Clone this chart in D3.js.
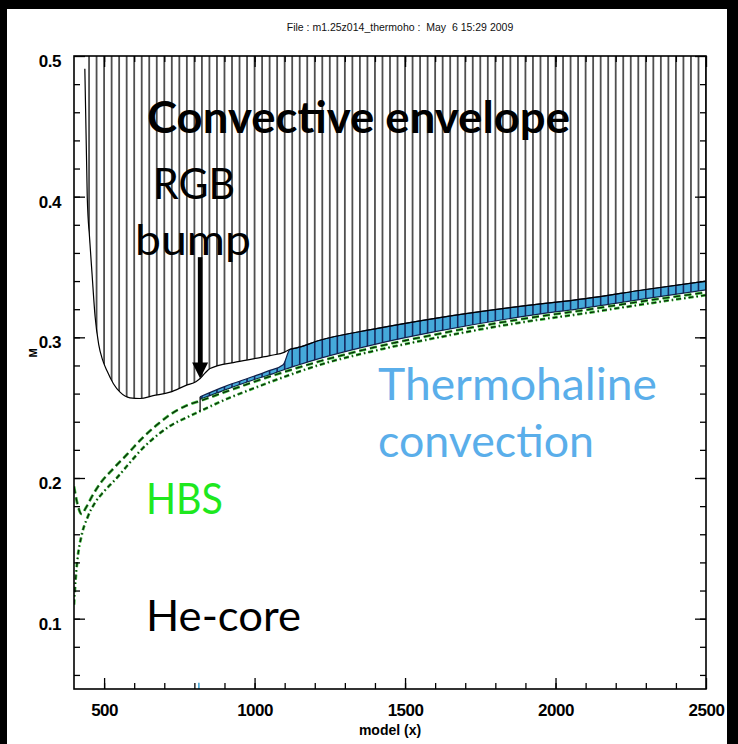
<!DOCTYPE html>
<html>
<head>
<meta charset="utf-8">
<script src="https://cdn.jsdelivr.net/npm/d3@7"></script>
<style>
  html, body { margin: 0; padding: 0; background: #fff; }
  svg { display: block; }
</style>
</head>
<body>
<svg id="chart" width="738" height="744"></svg>
<script>
// ---- axis ticks ----
const xMajorTicks = [500, 1000, 1500, 2000, 2500];
const xTickLabels = ["500", "1000", "1500", "2000", "2500"];
const yMajorTicks = [0.1, 0.2, 0.3, 0.4, 0.5];
const yTickLabels = ["0.1", "0.2", "0.3", "0.4", "0.5"];

// ---- base of the convective envelope (model, M) ----
const envModel = [436, 444, 452, 460, 470, 482, 495, 510, 531, 553, 586, 620, 663, 719, 774, 805, 819, 835, 852, 940, 1051, 1100, 1118, 1140, 1217, 1400, 1600, 1882, 2100, 2300, 2500];
const envM     = [0.491, 0.400, 0.370, 0.345, 0.315, 0.295, 0.284, 0.276, 0.267, 0.261, 0.257, 0.2565, 0.2585, 0.261, 0.266, 0.2685, 0.2707, 0.2745, 0.2778, 0.2825, 0.2870, 0.2895, 0.2915, 0.2925, 0.2979, 0.3060, 0.3135, 0.3220, 0.3275, 0.3340, 0.3400];

// ---- thermohaline mixing zone ----
const thModel = [819, 900, 1000, 1051, 1095, 1118, 1140, 1217, 1400, 1600, 1882, 2100, 2300, 2500];
const thTop   = [0.2578, 0.2650, 0.2725, 0.2765, 0.2805, 0.2915, 0.2925, 0.2979, 0.3060, 0.3135, 0.3220, 0.3275, 0.3340, 0.3400];
const thBot   = [0.2560, 0.2625, 0.2700, 0.2735, 0.2768, 0.2785, 0.2800, 0.2850, 0.2950, 0.3040, 0.3145, 0.3210, 0.3275, 0.3338];

// ---- hydrogen-burning shell boundaries ----
const hbsAModel = [400, 412, 425, 440, 460, 490, 530, 575, 630, 680, 719, 774, 819, 900, 1000, 1100, 1217, 1400, 1600, 1882, 2100, 2300, 2500];
const hbsAM     = [0.194, 0.181, 0.1745, 0.179, 0.187, 0.197, 0.2065, 0.2165, 0.2290, 0.2385, 0.2450, 0.2515, 0.2548, 0.2610, 0.2685, 0.2755, 0.2830, 0.2930, 0.3020, 0.3128, 0.3195, 0.3260, 0.3320];
const hbsBModel = [400, 405, 412, 425, 445, 470, 500, 540, 580, 630, 680, 719, 774, 819, 900, 1000, 1100, 1217, 1400, 1600, 1882, 2100, 2300, 2500];
const hbsBM     = [0.110, 0.127, 0.143, 0.159, 0.172, 0.1825, 0.1905, 0.1995, 0.2095, 0.2215, 0.2310, 0.2370, 0.2430, 0.2475, 0.2555, 0.2640, 0.2720, 0.2805, 0.2905, 0.2995, 0.3105, 0.3172, 0.3238, 0.3300];

// onset of thermohaline mixing (RGB bump)
const bumpModel = 819;
const arrowStartM = 0.357;

const svg = d3.select("#chart");
const W = 738, H = 744;
const plotL = 74, plotR = 706, plotT = 56, plotB = 689;

const x = d3.scaleLinear().domain([400, 2500]).range([plotL, plotR]);
const y = d3.scaleLinear().domain([0.05, 0.5]).range([plotB, plotT]);

// page background with dark border strips
svg.append("rect").attr("width", W).attr("height", H).attr("fill", "#fff");
svg.append("rect").attr("x", 0).attr("y", 0).attr("width", W).attr("height", 9).attr("fill", "#000");
svg.append("rect").attr("x", 0).attr("y", 0).attr("width", 7).attr("height", H).attr("fill", "#000");
svg.append("rect").attr("x", 727).attr("y", 0).attr("width", 11).attr("height", H).attr("fill", "#000");

svg.append("text")
  .attr("x", 400).attr("y", 31)
  .attr("text-anchor", "middle")
  .attr("font-family", "'Liberation Sans', Arial, sans-serif")
  .attr("font-size", 10.5)
  .attr("fill", "#111")
  .style("white-space", "pre")
  .text("File : m1.25z014_thermoho :  May  6 15:29 2009");

const zip = (a, b) => a.map((v, i) => [v, b[i]]);
const envPts = zip(envModel, envM);
const hbsA = zip(hbsAModel, hbsAM);
const hbsB = zip(hbsBModel, hbsBM);
const thPts = thModel.map((m, i) => ({ m, t: thTop[i], b: thBot[i] }));

const defs = svg.append("defs");
defs.append("clipPath").attr("id", "plotClip")
  .append("rect").attr("x", plotL).attr("y", plotT)
  .attr("width", plotR - plotL).attr("height", plotB - plotT);

// convective envelope region: from its base up to the top of the plot
const envArea = d3.area()
  .x(d => x(d[0])).y0(d => y(d[1])).y1(y(0.5))
  .curve(d3.curveMonotoneX);
defs.append("clipPath").attr("id", "envClip")
  .append("path").attr("d", envArea(envPts));

const thArea = d3.area()
  .x(d => x(d.m)).y0(d => y(d.b)).y1(d => y(d.t))
  .curve(d3.curveMonotoneX);
defs.append("clipPath").attr("id", "thClip")
  .append("path").attr("d", thArea(thPts));

const g = svg.append("g").attr("clip-path", "url(#plotClip)");

// hatching of the convective envelope
const hatchModels = d3.range(450, 2501, 25);
g.append("g").attr("clip-path", "url(#envClip)")
  .selectAll("line").data(hatchModels).join("line")
  .attr("x1", d => x(d)).attr("x2", d => x(d))
  .attr("y1", y(0.05)).attr("y2", y(0.5))
  .attr("stroke", "#4f4f4f").attr("stroke-width", 1.8);

// thermohaline zone
g.append("path").attr("d", thArea(thPts))
  .attr("fill", "#45a9da").attr("stroke", "none");
g.append("g").attr("clip-path", "url(#thClip)")
  .selectAll("line").data(hatchModels.filter(m => m >= bumpModel)).join("line")
  .attr("x1", d => x(d)).attr("x2", d => x(d))
  .attr("y1", y(0.05)).attr("y2", y(0.5))
  .attr("stroke", "#13285e").attr("stroke-width", 1.6);
const thLine = d3.line().x(d => x(d.m)).curve(d3.curveMonotoneX);
g.append("path").attr("d", thLine.y(d => y(d.b))(thPts))
  .attr("fill", "none").attr("stroke", "#10204a").attr("stroke-width", 1.2);
g.append("path").attr("d", thLine.y(d => y(d.t))(thPts))
  .attr("fill", "none").attr("stroke", "#10204a").attr("stroke-width", 1.2);

// base of the convective envelope
const line = d3.line().x(d => x(d[0])).y(d => y(d[1])).curve(d3.curveMonotoneX);
g.append("path").attr("d", line(envPts))
  .attr("fill", "none").attr("stroke", "#000").attr("stroke-width", 1.2);

// hydrogen-burning shell limits: green under-stroke with dark dashes on top
[[hbsA, "7,4"], [hbsB, "5,3,1.5,3"]].forEach(([pts, dash]) => {
  g.append("path").attr("d", line(pts))
    .attr("fill", "none").attr("stroke", "#3fbf3f").attr("stroke-width", 2.8)
    .attr("stroke-dasharray", dash);
  g.append("path").attr("d", line(pts))
    .attr("fill", "none").attr("stroke", "#0b2a0b").attr("stroke-width", 1.3)
    .attr("stroke-dasharray", dash);
});

// vertical edge of the thermohaline zone at its onset
const hbsBAt = d3.scaleLinear().domain(hbsBModel).range(hbsBM);
g.append("line")
  .attr("x1", x(bumpModel)).attr("x2", x(bumpModel))
  .attr("y1", y(thTop[0])).attr("y2", y(hbsBAt(bumpModel)))
  .attr("stroke", "#000").attr("stroke-width", 1.2);

// small marker on the model axis at the onset
g.append("line")
  .attr("x1", x(815)).attr("x2", x(815))
  .attr("y1", y(0.05)).attr("y2", y(0.0545))
  .attr("stroke", "#3a9fd0").attr("stroke-width", 1.5);

// ---- axes: ticks point inward on all four sides ----
const axisFont = "'Liberation Sans', Arial, sans-serif";
function styleAxis(sel) {
  sel.select(".domain").remove();
  sel.selectAll(".tick line").attr("stroke", "#000").attr("stroke-width", 1.3);
}
const xMinor = d3.range(500, 2500, 100);
const yMinor = d3.range(0.06, 0.5, 0.02);

svg.append("g").attr("transform", `translate(0,${plotB})`)
  .call(d3.axisBottom(x).tickValues(xMinor).tickSize(-6).tickFormat(""))
  .call(styleAxis);
svg.append("g").attr("transform", `translate(0,${plotT})`)
  .call(d3.axisTop(x).tickValues(xMinor).tickSize(-6).tickFormat(""))
  .call(styleAxis);
svg.append("g").attr("transform", `translate(${plotL},0)`)
  .call(d3.axisLeft(y).tickValues(yMinor).tickSize(-6).tickFormat(""))
  .call(styleAxis);
svg.append("g").attr("transform", `translate(${plotR},0)`)
  .call(d3.axisRight(y).tickValues(yMinor).tickSize(-6).tickFormat(""))
  .call(styleAxis);

const xAxis = svg.append("g").attr("transform", `translate(0,${plotB})`)
  .call(d3.axisBottom(x).tickValues(xMajorTicks).tickSize(-11).tickPadding(15)
    .tickFormat((d, i) => xTickLabels[i]))
  .call(styleAxis);
xAxis.selectAll("text")
  .attr("font-family", axisFont).attr("font-weight", "bold")
  .attr("font-size", 17).attr("fill", "#000").attr("letter-spacing", -0.5);

svg.append("g").attr("transform", `translate(0,${plotT})`)
  .call(d3.axisTop(x).tickValues(xMajorTicks).tickSize(-11).tickFormat(""))
  .call(styleAxis);

const yAxis = svg.append("g").attr("transform", `translate(${plotL},0)`)
  .call(d3.axisLeft(y).tickValues(yMajorTicks).tickSize(-11).tickPadding(13)
    .tickFormat((d, i) => yTickLabels[i]))
  .call(styleAxis);
yAxis.selectAll("text")
  .attr("font-family", axisFont).attr("font-weight", "bold")
  .attr("font-size", 17).attr("fill", "#000").attr("dy", "0.62em")
  .attr("letter-spacing", -0.5);

svg.append("g").attr("transform", `translate(${plotR},0)`)
  .call(d3.axisRight(y).tickValues(yMajorTicks).tickSize(-11).tickFormat(""))
  .call(styleAxis);

svg.append("rect")
  .attr("x", plotL).attr("y", plotT).attr("width", plotR - plotL).attr("height", plotB - plotT)
  .attr("fill", "none").attr("stroke", "#000").attr("stroke-width", 1.6);

svg.append("text")
  .attr("x", (plotL + plotR) / 2).attr("y", 735)
  .attr("text-anchor", "middle")
  .attr("font-family", axisFont).attr("font-weight", "bold").attr("font-size", 14)
  .text("model (x)");
svg.append("text")
  .attr("transform", "translate(37,353) rotate(-90)")
  .attr("text-anchor", "middle")
  .attr("font-family", axisFont).attr("font-weight", "bold").attr("font-size", 11)
  .text("M");

// ---- annotations ----
const noteFont = "Lato, 'Open Sans', 'Noto Sans', sans-serif";
const notes = [
  { t: "Convective envelope", x: 147, y: 133, w: 423, fs: 44, bold: true, c: "#000" },
  { t: "RGB", x: 153, y: 199, w: 82, fs: 43, c: "#000" },
  { t: "bump", x: 135, y: 255, w: 116, fs: 43, c: "#000" },
  { t: "Thermohaline", x: 378, y: 400, w: 279, fs: 44, c: "#5aaeea" },
  { t: "convection", x: 378, y: 457, w: 216, fs: 44, c: "#5aaeea" },
  { t: "HBS", x: 146, y: 514, w: 77, fs: 43, c: "#1ee81e" },
  { t: "He-core", x: 146, y: 631, w: 155, fs: 43, c: "#000" }
];
svg.selectAll("text.note").data(notes).join("text")
  .attr("class", "note")
  .attr("x", d => d.x).attr("y", d => d.y)
  .attr("font-family", noteFont)
  .attr("font-weight", d => d.bold ? "bold" : "normal")
  .attr("font-size", d => d.fs)
  .attr("fill", d => d.c)
  .attr("textLength", d => d.w)
  .attr("lengthAdjust", "spacingAndGlyphs")
  .text(d => d.t);

// arrow pointing at the bump on the envelope base
const envAt = d3.scaleLinear().domain(envModel).range(envM);
const ax = x(bumpModel);
const tipY = y(envAt(bumpModel));
const headLen = 16, headHalf = 8;
svg.append("line")
  .attr("x1", ax).attr("x2", ax)
  .attr("y1", y(arrowStartM)).attr("y2", tipY - headLen + 1)
  .attr("stroke", "#000").attr("stroke-width", 4.5);
svg.append("path")
  .attr("d", `M${ax - headHalf},${tipY - headLen} L${ax + headHalf},${tipY - headLen} L${ax},${tipY} Z`)
  .attr("fill", "#000");
</script>
</body>
</html>
